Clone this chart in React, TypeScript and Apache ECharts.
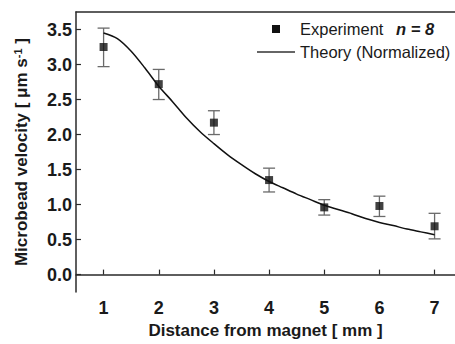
import React, { useEffect, useRef } from "react";
import * as echarts from "echarts";

const expX = [1, 2, 3, 4, 5, 6, 7];
const expY = [3.25, 2.72, 2.17, 1.35, 0.96, 0.98, 0.69];
const errLow = [2.97, 2.5, 2.0, 1.18, 0.85, 0.83, 0.51];
const errHigh = [3.52, 2.93, 2.34, 1.52, 1.07, 1.12, 0.875];

const theoryX = [1, 1.25, 1.5, 1.75, 2, 2.25, 2.5, 2.75, 3, 3.25, 3.5, 3.75, 4, 4.25, 4.5, 4.75, 5, 5.25, 5.5, 5.75, 6, 6.25, 6.5, 6.75, 7];
const theoryY = [3.45, 3.37, 3.19, 2.95, 2.69, 2.47, 2.24, 2.04, 1.87, 1.71, 1.57, 1.44, 1.33, 1.24, 1.15, 1.07, 0.99, 0.93, 0.87, 0.8, 0.745, 0.7, 0.65, 0.61, 0.57];

const yTicks = [0, 0.5, 1, 1.5, 2, 2.5, 3, 3.5];
const xTicks = [1, 2, 3, 4, 5, 6, 7];

const FONT = "Liberation Sans, Arial, sans-serif";

export default function App() {
  const ref = useRef<HTMLDivElement>(null);
  useEffect(() => {
    if (!ref.current) return;
    const chart = echarts.init(ref.current, null, { renderer: "svg" });
    const axisLine = { show: true, lineStyle: { color: "#2a2a2a", width: 1.5 } };
    chart.setOption({
      animation: false,
      backgroundColor: "#ffffff",
      textStyle: { fontFamily: FONT },
      grid: { left: 76, top: 12, right: 0, bottom: 46 },
      xAxis: [
        {
          type: "value",
          min: 0.5,
          max: 7.37,
          axisLine,
          splitLine: { show: false },
          axisTick: { show: true, inside: true, length: 5, lineStyle: { color: "#2a2a2a", width: 1.2 }, customValues: xTicks },
          axisLabel: { customValues: xTicks, fontSize: 18, fontWeight: "bold", color: "#1a1a1a", margin: 7, fontFamily: FONT },
          name: "Distance from magnet [ mm ]",
          nameLocation: "middle",
          nameGap: 28,
          nameTextStyle: { fontSize: 17, fontWeight: "bold", color: "#1a1a1a", fontFamily: FONT },
        },
        {
          type: "value",
          position: "top",
          min: 0.5,
          max: 7.37,
          axisLine,
          axisTick: { show: false },
          axisLabel: { show: false },
          splitLine: { show: false },
        },
      ],
      yAxis: {
        type: "value",
        min: -0.25,
        max: 3.75,
        axisLine,
        splitLine: { show: false },
        axisTick: { show: true, inside: true, length: 5, lineStyle: { color: "#2a2a2a", width: 1.2 }, customValues: yTicks },
        axisLabel: {
          customValues: yTicks,
          fontSize: 18,
          fontWeight: "bold",
          color: "#1a1a1a",
          margin: 4,
          fontFamily: FONT,
          formatter: (v: number) => v.toFixed(1),
        },
        name: "Microbead velocity [ μm s{sup|-1} ]",
        nameLocation: "middle",
        nameGap: 45,
        nameTextStyle: {
          fontSize: 17,
          fontWeight: "bold",
          color: "#1a1a1a",
          fontFamily: FONT,
          rich: {
            sup: { fontSize: 11, fontWeight: "bold", verticalAlign: "top", padding: [0, 0, 8, 0], fontFamily: FONT, color: "#1a1a1a" },
          },
        },
      },
      series: [
        {
          type: "custom",
          xAxisIndex: 0,
          data: expX.map((x, i) => [x, errLow[i], errHigh[i]]),
          renderItem: (params: any, api: any) => {
            const x = api.value(0);
            const lo = api.coord([x, api.value(1)]);
            const hi = api.coord([x, api.value(2)]);
            const hw = 6;
            const style = { stroke: "#6a6a6a", lineWidth: 1.3 };
            return {
              type: "group",
              children: [
                { type: "line", shape: { x1: lo[0], y1: lo[1], x2: hi[0], y2: hi[1] }, style },
                { type: "line", shape: { x1: lo[0] - hw, y1: lo[1], x2: lo[0] + hw, y2: lo[1] }, style },
                { type: "line", shape: { x1: hi[0] - hw, y1: hi[1], x2: hi[0] + hw, y2: hi[1] }, style },
              ],
            };
          },
          z: 1,
        },
        {
          type: "line",
          xAxisIndex: 0,
          data: theoryX.map((x, i) => [x, theoryY[i]]),
          smooth: 0.3,
          symbol: "none",
          lineStyle: { color: "#111111", width: 1.5 },
          z: 2,
        },
        {
          type: "scatter",
          xAxisIndex: 0,
          data: expX.map((x, i) => [x, expY[i]]),
          symbol: "rect",
          symbolSize: 8,
          itemStyle: { color: "#111111" },
          z: 3,
        },
      ],
      graphic: [
        { type: "rect", shape: { x: 272, y: 25, width: 8, height: 8 }, style: { fill: "#111111" } },
        {
          type: "text",
          x: 300,
          y: 29,
          style: { text: "Experiment", fontSize: 16.5, fontFamily: FONT, fill: "#1a1a1a", verticalAlign: "middle" },
        },
        {
          type: "text",
          x: 396,
          y: 29,
          style: { text: "n = 8", fontSize: 16.5, fontWeight: "bold", fontStyle: "italic", fontFamily: FONT, fill: "#1a1a1a", verticalAlign: "middle" },
        },
        { type: "line", shape: { x1: 257, y1: 52, x2: 295, y2: 52 }, style: { stroke: "#333333", lineWidth: 1.3 } },
        {
          type: "text",
          x: 300,
          y: 52,
          style: { text: "Theory (Normalized)", fontSize: 16.5, fontFamily: FONT, fill: "#1a1a1a", verticalAlign: "middle" },
        },
      ],
    });
    return () => chart.dispose();
  }, []);
  return <div ref={ref} style={{ width: 455, height: 344, position: "absolute", left: 0, top: 0 }} />;
}
